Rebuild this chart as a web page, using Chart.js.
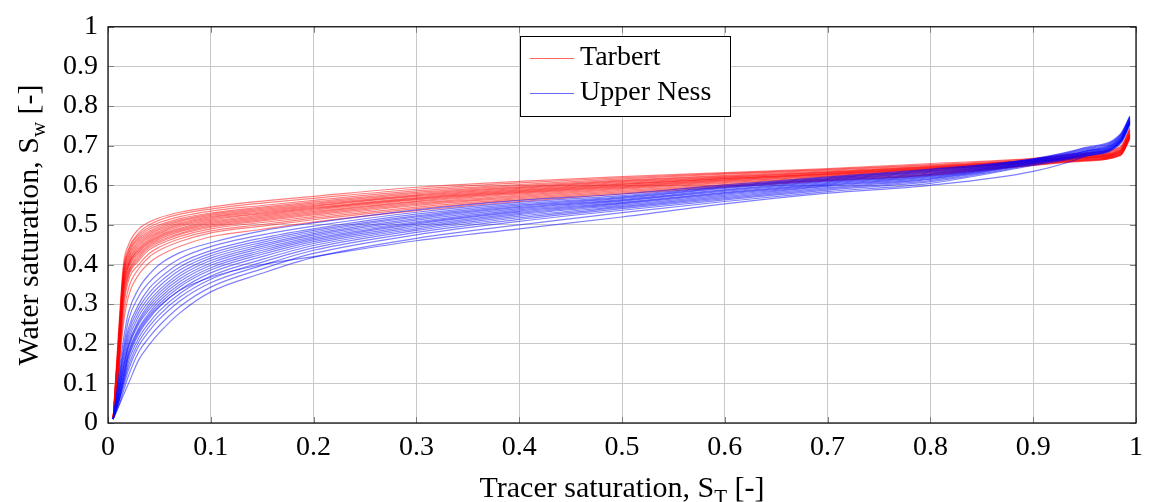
<!DOCTYPE html>
<html>
<head>
<meta charset="utf-8">
<script src="https://cdn.jsdelivr.net/npm/chart.js@4"></script>
<style>
    html, body { margin: 0; padding: 0; background: #fff; }
    #wrap { width: 1151px; height: 502px; }
</style>
</head>
<body>
<div id="wrap"><canvas id="chart" width="1151" height="502"></canvas></div>
<script>
// tracer saturation sample points, shared by all curves
const xValues = [0.005, 0.01, 0.015, 0.02, 0.03, 0.04, 0.05, 0.07, 0.1, 0.15, 0.2, 0.3, 0.4, 0.5, 0.6, 0.7, 0.8, 0.9, 0.95, 0.985, 0.994];

// Tarbert curves (water saturation)
const tarbertCurves = [
    [0.01, 0.22, 0.40, 0.45, 0.49, 0.507, 0.518, 0.532, 0.545, 0.560, 0.572, 0.595, 0.610, 0.622, 0.632, 0.642, 0.655, 0.668, 0.682, 0.698, 0.745],
    [0.01, 0.21, 0.39, 0.44, 0.48, 0.500, 0.512, 0.527, 0.540, 0.555, 0.567, 0.590, 0.606, 0.619, 0.630, 0.640, 0.652, 0.667, 0.680, 0.696, 0.742],
    [0.01, 0.20, 0.38, 0.435, 0.475, 0.494, 0.506, 0.521, 0.535, 0.549, 0.562, 0.586, 0.602, 0.616, 0.628, 0.638, 0.650, 0.665, 0.678, 0.694, 0.740],
    [0.01, 0.20, 0.38, 0.43, 0.47, 0.489, 0.500, 0.516, 0.530, 0.545, 0.558, 0.582, 0.599, 0.613, 0.625, 0.636, 0.648, 0.664, 0.676, 0.692, 0.738],
    [0.01, 0.19, 0.37, 0.425, 0.465, 0.484, 0.496, 0.512, 0.527, 0.542, 0.555, 0.579, 0.596, 0.611, 0.623, 0.634, 0.647, 0.663, 0.675, 0.690, 0.735],
    [0.01, 0.19, 0.37, 0.42, 0.46, 0.480, 0.492, 0.509, 0.524, 0.539, 0.552, 0.576, 0.594, 0.609, 0.621, 0.633, 0.646, 0.662, 0.674, 0.689, 0.733],
    [0.01, 0.18, 0.36, 0.415, 0.455, 0.476, 0.488, 0.505, 0.521, 0.536, 0.549, 0.574, 0.592, 0.607, 0.620, 0.632, 0.645, 0.661, 0.673, 0.688, 0.732],
    [0.01, 0.18, 0.36, 0.41, 0.45, 0.472, 0.484, 0.502, 0.518, 0.533, 0.547, 0.572, 0.590, 0.605, 0.618, 0.630, 0.644, 0.660, 0.672, 0.687, 0.730],
    [0.01, 0.17, 0.35, 0.405, 0.445, 0.468, 0.481, 0.499, 0.515, 0.530, 0.544, 0.569, 0.588, 0.603, 0.617, 0.629, 0.643, 0.660, 0.671, 0.686, 0.729],
    [0.01, 0.17, 0.35, 0.40, 0.44, 0.464, 0.478, 0.496, 0.512, 0.528, 0.542, 0.567, 0.586, 0.602, 0.616, 0.628, 0.642, 0.659, 0.670, 0.685, 0.728],
    [0.01, 0.16, 0.34, 0.40, 0.437, 0.460, 0.474, 0.492, 0.509, 0.525, 0.540, 0.565, 0.584, 0.600, 0.614, 0.627, 0.641, 0.658, 0.670, 0.684, 0.727],
    [0.01, 0.16, 0.34, 0.395, 0.433, 0.457, 0.471, 0.489, 0.506, 0.522, 0.537, 0.563, 0.582, 0.598, 0.613, 0.626, 0.640, 0.658, 0.669, 0.683, 0.726],
    [0.01, 0.15, 0.33, 0.39, 0.43, 0.454, 0.468, 0.486, 0.503, 0.519, 0.534, 0.560, 0.580, 0.596, 0.611, 0.624, 0.639, 0.657, 0.668, 0.682, 0.725],
    [0.01, 0.15, 0.33, 0.385, 0.425, 0.450, 0.464, 0.483, 0.500, 0.516, 0.531, 0.558, 0.578, 0.594, 0.609, 0.623, 0.637, 0.656, 0.667, 0.681, 0.724],
    [0.01, 0.14, 0.32, 0.38, 0.42, 0.446, 0.460, 0.479, 0.497, 0.513, 0.528, 0.555, 0.575, 0.592, 0.607, 0.621, 0.635, 0.655, 0.666, 0.680, 0.723],
    [0.01, 0.14, 0.31, 0.375, 0.415, 0.442, 0.456, 0.476, 0.494, 0.510, 0.525, 0.552, 0.572, 0.590, 0.605, 0.619, 0.633, 0.654, 0.665, 0.679, 0.722],
    [0.01, 0.13, 0.30, 0.37, 0.41, 0.437, 0.451, 0.471, 0.490, 0.506, 0.521, 0.549, 0.569, 0.587, 0.602, 0.617, 0.631, 0.653, 0.664, 0.678, 0.721],
    [0.01, 0.13, 0.29, 0.36, 0.40, 0.428, 0.444, 0.465, 0.485, 0.501, 0.517, 0.545, 0.566, 0.584, 0.600, 0.615, 0.629, 0.652, 0.663, 0.677, 0.720],
    [0.01, 0.12, 0.27, 0.34, 0.39, 0.419, 0.436, 0.458, 0.480, 0.497, 0.513, 0.541, 0.563, 0.581, 0.598, 0.613, 0.627, 0.651, 0.662, 0.676, 0.718],
    [0.01, 0.12, 0.25, 0.32, 0.375, 0.404, 0.422, 0.446, 0.470, 0.489, 0.507, 0.536, 0.559, 0.578, 0.595, 0.611, 0.625, 0.650, 0.661, 0.675, 0.716]
];

// Upper Ness curves (water saturation)
const upperNessCurves = [
    [0.01, 0.11, 0.21, 0.28, 0.34, 0.375, 0.400, 0.430, 0.455, 0.485, 0.505, 0.538, 0.562, 0.578, 0.601, 0.621, 0.641, 0.667, 0.695, 0.730, 0.775],
    [0.01, 0.10, 0.19, 0.26, 0.32, 0.355, 0.380, 0.415, 0.445, 0.475, 0.497, 0.532, 0.557, 0.574, 0.598, 0.619, 0.639, 0.666, 0.693, 0.728, 0.773],
    [0.01, 0.09, 0.18, 0.24, 0.30, 0.340, 0.365, 0.403, 0.435, 0.467, 0.490, 0.527, 0.553, 0.571, 0.596, 0.617, 0.637, 0.665, 0.691, 0.726, 0.772],
    [0.01, 0.09, 0.17, 0.23, 0.29, 0.328, 0.355, 0.394, 0.428, 0.461, 0.486, 0.523, 0.550, 0.569, 0.594, 0.615, 0.635, 0.665, 0.689, 0.724, 0.770],
    [0.01, 0.08, 0.16, 0.22, 0.28, 0.318, 0.345, 0.386, 0.422, 0.456, 0.482, 0.520, 0.547, 0.567, 0.592, 0.613, 0.633, 0.664, 0.687, 0.722, 0.768],
    [0.01, 0.08, 0.15, 0.21, 0.27, 0.308, 0.336, 0.378, 0.416, 0.451, 0.478, 0.516, 0.544, 0.564, 0.589, 0.611, 0.631, 0.663, 0.686, 0.720, 0.767],
    [0.01, 0.07, 0.14, 0.20, 0.26, 0.300, 0.329, 0.371, 0.410, 0.446, 0.474, 0.512, 0.541, 0.562, 0.587, 0.609, 0.629, 0.662, 0.685, 0.719, 0.765],
    [0.01, 0.07, 0.14, 0.195, 0.255, 0.293, 0.322, 0.364, 0.404, 0.441, 0.470, 0.508, 0.538, 0.560, 0.585, 0.607, 0.627, 0.661, 0.684, 0.717, 0.764],
    [0.01, 0.07, 0.13, 0.19, 0.25, 0.286, 0.315, 0.357, 0.398, 0.436, 0.466, 0.505, 0.535, 0.557, 0.582, 0.605, 0.625, 0.660, 0.682, 0.716, 0.763],
    [0.01, 0.06, 0.12, 0.18, 0.24, 0.278, 0.308, 0.350, 0.392, 0.431, 0.462, 0.502, 0.532, 0.555, 0.580, 0.603, 0.623, 0.659, 0.681, 0.715, 0.762],
    [0.01, 0.06, 0.12, 0.175, 0.235, 0.272, 0.301, 0.344, 0.386, 0.426, 0.458, 0.498, 0.529, 0.553, 0.578, 0.601, 0.621, 0.658, 0.680, 0.713, 0.760],
    [0.01, 0.06, 0.11, 0.165, 0.225, 0.263, 0.293, 0.336, 0.379, 0.420, 0.453, 0.494, 0.526, 0.550, 0.575, 0.599, 0.619, 0.657, 0.679, 0.712, 0.759],
    [0.01, 0.05, 0.10, 0.155, 0.215, 0.253, 0.283, 0.327, 0.371, 0.413, 0.448, 0.490, 0.522, 0.547, 0.572, 0.597, 0.617, 0.656, 0.678, 0.711, 0.758],
    [0.01, 0.05, 0.10, 0.145, 0.205, 0.243, 0.273, 0.318, 0.363, 0.406, 0.442, 0.486, 0.518, 0.544, 0.569, 0.594, 0.615, 0.655, 0.677, 0.710, 0.757],
    [0.01, 0.05, 0.09, 0.135, 0.195, 0.232, 0.262, 0.308, 0.354, 0.398, 0.436, 0.481, 0.514, 0.541, 0.566, 0.591, 0.612, 0.654, 0.676, 0.709, 0.756],
    [0.01, 0.04, 0.08, 0.12, 0.18, 0.216, 0.246, 0.294, 0.343, 0.389, 0.428, 0.475, 0.509, 0.537, 0.563, 0.588, 0.609, 0.652, 0.675, 0.707, 0.755],
    [0.01, 0.04, 0.07, 0.10, 0.16, 0.197, 0.228, 0.278, 0.331, 0.378, 0.418, 0.466, 0.500, 0.531, 0.559, 0.584, 0.605, 0.650, 0.673, 0.705, 0.752],
    [0.01, 0.05, 0.11, 0.17, 0.23, 0.268, 0.295, 0.335, 0.368, 0.400, 0.420, 0.460, 0.490, 0.520, 0.553, 0.580, 0.600, 0.635, 0.672, 0.712, 0.760]
];

const seriesNames = ['Tarbert', 'Upper Ness'];
const seriesColors = ['rgba(255, 0, 0, 0.5)', 'rgba(0, 0, 255, 0.5)'];
const legendColors = ['rgba(255, 0, 0, 0.6)', 'rgba(0, 0, 255, 0.6)'];
const tickValues = [0, 0.1, 0.2, 0.3, 0.4, 0.5, 0.6, 0.7, 0.8, 0.9, 1];

const FONT = '"Liberation Serif", "DejaVu Serif", serif';

function curveToPoints(row) {
    return row.map((y, i) => ({ x: xValues[i], y: y }));
}

const datasets = [];
tarbertCurves.forEach(row => {
    datasets.push({
        label: seriesNames[0],
        data: curveToPoints(row),
        borderColor: seriesColors[0],
        borderWidth: 1.2,
        pointRadius: 0,
        fill: false,
        cubicInterpolationMode: 'monotone',
        order: 2
    });
});
upperNessCurves.forEach(row => {
    datasets.push({
        label: seriesNames[1],
        data: curveToPoints(row),
        borderColor: seriesColors[1],
        borderWidth: 1.2,
        pointRadius: 0,
        fill: false,
        cubicInterpolationMode: 'monotone',
        order: 1
    });
});

// text with a subscript, drawn left to right from x
function drawSubText(ctx, parts, x, y, size) {
    let cx = x;
    parts.forEach(p => {
        const s = p.sub ? size * 0.7 : size;
        ctx.font = s + 'px ' + FONT;
        ctx.fillText(p.text, cx, y + (p.sub ? size * 0.22 : 0));
        cx += ctx.measureText(p.text).width;
    });
}
function measureSubText(ctx, parts, size) {
    let w = 0;
    parts.forEach(p => {
        const s = p.sub ? size * 0.7 : size;
        ctx.font = s + 'px ' + FONT;
        w += ctx.measureText(p.text).width;
    });
    return w;
}

const xTitle = [{ text: 'Tracer saturation, S' }, { text: 'T', sub: true }, { text: ' [-]' }];
const yTitle = [{ text: 'Water saturation, S' }, { text: 'w', sub: true }, { text: ' [-]' }];

const framePlugin = {
    id: 'frame',
    afterDatasetsDraw(chart) {
        const ctx = chart.ctx;
        const a = chart.chartArea;
        const xs = chart.scales.x;
        const ys = chart.scales.y;
        ctx.save();
        // inner tick marks
        ctx.strokeStyle = '#7f7f7f';
        ctx.lineWidth = 1;
        tickValues.forEach(v => {
            const px = Math.round(xs.getPixelForValue(v)) + 0.5;
            const py = Math.round(ys.getPixelForValue(v)) + 0.5;
            ctx.beginPath();
            ctx.moveTo(px, a.bottom); ctx.lineTo(px, a.bottom - 6);
            ctx.moveTo(px, a.top); ctx.lineTo(px, a.top + 6);
            ctx.moveTo(a.left, py); ctx.lineTo(a.left + 6, py);
            ctx.moveTo(a.right, py); ctx.lineTo(a.right - 6, py);
            ctx.stroke();
        });
        // box
        ctx.strokeStyle = '#000';
        ctx.lineWidth = 1.2;
        ctx.strokeRect(a.left, a.top, a.right - a.left, a.bottom - a.top);
        ctx.restore();
    },
    afterDraw(chart) {
        const ctx = chart.ctx;
        const a = chart.chartArea;
        ctx.save();
        ctx.fillStyle = '#000';
        ctx.textBaseline = 'alphabetic';
        ctx.textAlign = 'left';

        // axis titles
        const size = 30;
        const wx = measureSubText(ctx, xTitle, size);
        drawSubText(ctx, xTitle, (a.left + a.right) / 2 - wx / 2, 497, size);

        const wy = measureSubText(ctx, yTitle, size);
        ctx.translate(38, (a.top + a.bottom) / 2);
        ctx.rotate(-Math.PI / 2);
        drawSubText(ctx, yTitle, -wy / 2, 0, size);
        ctx.restore();

        // legend
        ctx.save();
        const lx = 520, ly = 36, lw = 210, lh = 80;
        ctx.fillStyle = '#fff';
        ctx.fillRect(lx, ly, lw, lh);
        ctx.strokeStyle = '#000';
        ctx.lineWidth = 1;
        ctx.strokeRect(lx + 0.5, ly + 0.5, lw, lh);
        ctx.font = '28px ' + FONT;
        ctx.textBaseline = 'middle';
        seriesNames.forEach((name, i) => {
            const rowY = ly + 22 + i * 35;
            ctx.strokeStyle = legendColors[i];
            ctx.lineWidth = 1.2;
            ctx.beginPath();
            ctx.moveTo(lx + 10, rowY + 0.5);
            ctx.lineTo(lx + 54, rowY + 0.5);
            ctx.stroke();
            ctx.fillStyle = '#000';
            ctx.fillText(name, lx + 60, rowY);
        });
        ctx.restore();
    }
};

new Chart(document.getElementById('chart'), {
    type: 'line',
    data: { datasets: datasets },
    options: {
        responsive: false,
        animation: false,
        layout: { padding: { left: 0, right: 10, top: 22, bottom: 0 } },
        plugins: {
            legend: { display: false },
            tooltip: { enabled: false }
        },
        scales: {
            x: {
                type: 'linear',
                min: 0,
                max: 1,
                afterFit: s => { s.height = 79; },
                afterBuildTicks: s => { s.ticks = tickValues.map(v => ({ value: v })); },
                grid: { color: '#c8c8c8', drawTicks: false },
                border: { display: false },
                ticks: {
                    padding: 8,
                    color: '#000',
                    font: { family: FONT, size: 28 },
                    maxRotation: 0,
                    callback: v => String(Math.round(v * 10) / 10)
                }
            },
            y: {
                type: 'linear',
                min: 0,
                max: 1,
                afterFit: s => { s.width = 108; },
                afterBuildTicks: s => { s.ticks = tickValues.map(v => ({ value: v })); },
                grid: { color: '#c8c8c8', drawTicks: false },
                border: { display: false },
                ticks: {
                    padding: 10,
                    color: '#000',
                    font: { family: FONT, size: 28 },
                    callback: v => String(Math.round(v * 10) / 10)
                }
            }
        }
    },
    plugins: [framePlugin]
});
</script>
</body>
</html>
